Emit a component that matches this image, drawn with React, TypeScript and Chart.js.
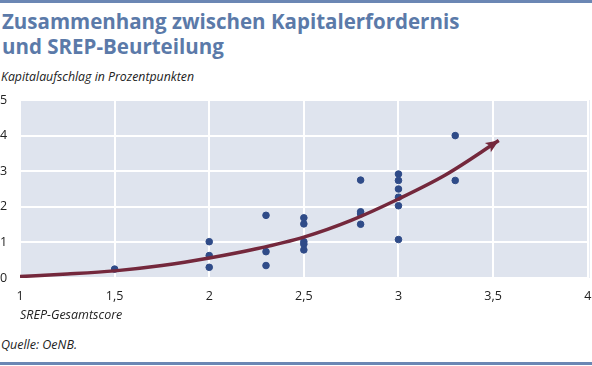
import React, { useEffect, useRef } from "react";
import { Chart, registerables } from "chart.js";
Chart.register(...registerables);

const xTicks = [1, 1.5, 2, 2.5, 3, 3.5, 4];
const yTicks = [0, 1, 2, 3, 4, 5];
const scoreX = [1.5, 2, 2, 2, 2.3, 2.3, 2.3, 2.5, 2.5, 2.5, 2.5, 2.5, 2.8, 2.8, 2.8, 2.8, 3, 3, 3, 3, 3, 3, 3.3, 3.3];
const surchargeY = [0.25, 1.02, 0.63, 0.3, 1.76, 0.74, 0.35, 1.69, 1.52, 1.02, 0.95, 0.79, 2.75, 1.86, 1.8, 1.51, 2.92, 2.74, 2.5, 2.27, 2.03, 1.08, 4.0, 2.74];
const trendX = [1, 1.25, 1.5, 1.75, 2, 2.25, 2.5, 2.75, 3, 3.25, 3.53];
const trendY = [0.04, 0.11, 0.2, 0.35, 0.56, 0.82, 1.15, 1.62, 2.22, 2.9, 3.86];

const TITLE = ["Zusammenhang zwischen Kapitalerfordernis", "und SREP-Beurteilung"];
const Y_LABEL = "Kapitalaufschlag in Prozentpunkten";
const X_LABEL = "SREP-Gesamtscore";
const SOURCE = "Quelle: OeNB.";

const BLUE = "#5b7aa9";
const DOT = "#2f4b88";
const MAROON = "#74283c";
const PLOT_BG = "#dfe4ee";
const FONT = "'Open Sans', sans-serif";

const fmt = (v: number) => String(v).replace(".", ",");

const bgPlugin = {
  id: "plotBg",
  beforeDraw(chart: any) {
    const { ctx, chartArea } = chart;
    ctx.save();
    ctx.fillStyle = PLOT_BG;
    ctx.fillRect(chartArea.left, chartArea.top, chartArea.right - chartArea.left + 2, chartArea.bottom - chartArea.top);
    ctx.restore();
  },
};

const arrowPlugin = {
  id: "arrowHead",
  afterDatasetsDraw(chart: any) {
    const meta = chart.getDatasetMeta(1);
    const pts = meta.data;
    if (!pts || pts.length < 2) return;
    const last = pts[pts.length - 1];
    const prev = pts[pts.length - 2];
    const cx = last.cp1x ?? prev.x;
    const cy = last.cp1y ?? prev.y;
    const ang = Math.atan2(last.y - cy, last.x - cx);
    const len = 13;
    const hw = 5.5;
    const { ctx } = chart;
    ctx.save();
    ctx.fillStyle = MAROON;
    ctx.translate(last.x, last.y);
    ctx.rotate(ang);
    ctx.beginPath();
    ctx.moveTo(0, 0);
    ctx.lineTo(-len, -hw);
    ctx.lineTo(-len + 3, 0);
    ctx.lineTo(-len, hw);
    ctx.closePath();
    ctx.fill();
    ctx.restore();
  },
};

export default function App() {
  const ref = useRef<HTMLCanvasElement | null>(null);
  useEffect(() => {
    if (!ref.current) return;
    const chart = new Chart(ref.current, {
      type: "scatter",
      data: {
        datasets: [
          {
            data: scoreX.map((x, i) => ({ x, y: surchargeY[i] })),
            backgroundColor: DOT,
            borderColor: DOT,
            pointRadius: 3.3,
            pointHoverRadius: 3.3,
            order: 2,
          },
          {
            type: "line",
            data: trendX.map((x, i) => ({ x, y: trendY[i] })),
            borderColor: MAROON,
            borderWidth: 3.5,
            pointRadius: 0,
            tension: 0.4,
            cubicInterpolationMode: "monotone",
            fill: false,
            order: 1,
          } as any,
        ],
      },
      options: {
        animation: false,
        responsive: false,
        maintainAspectRatio: false,
        layout: { padding: { top: 10, right: 2, left: 0, bottom: 0 } },
        plugins: { legend: { display: false }, tooltip: { enabled: false }, title: { display: false } },
        scales: {
          x: {
            type: "linear",
            min: 1,
            max: 4,
            afterBuildTicks: (axis: any) => {
              axis.ticks = xTicks.map((v) => ({ value: v }));
            },
            afterFit: (axis: any) => {
              axis.height = 52;
              axis.paddingLeft = 0;
              axis.paddingRight = 0;
            },
            grid: { color: "#ffffff", lineWidth: 2, drawTicks: false },
            border: { display: false },
            ticks: {
              padding: 11,
              color: "#222222",
              font: { family: FONT, size: 12.5 },
              callback: (v: any) => fmt(Number(v)),
              maxRotation: 0,
              autoSkip: false,
            },
            title: {
              display: true,
              text: X_LABEL,
              align: "start",
              color: "#222222",
              font: { family: FONT, size: 12.5, style: "italic" },
              padding: { top: 0, bottom: 7 },
            },
          },
          y: {
            type: "linear",
            min: 0,
            max: 5,
            afterBuildTicks: (axis: any) => {
              axis.ticks = yTicks.map((v) => ({ value: v }));
            },
            afterFit: (axis: any) => {
              axis.width = 20;
              axis.paddingTop = 0;
              axis.paddingBottom = 0;
            },
            grid: { color: "#ffffff", lineWidth: 2, drawTicks: false },
            border: { display: false },
            ticks: {
              padding: 16,
              crossAlign: "far",
              color: "#222222",
              font: { family: FONT, size: 12.5 },
              callback: (v: any) => fmt(Number(v)),
            },
          },
        },
      },
      plugins: [bgPlugin, arrowPlugin],
    } as any);
    return () => chart.destroy();
  }, []);

  return (
    <div style={{ position: "absolute", left: 0, top: 0, width: 592, height: 366, background: "#fff", overflow: "hidden", fontFamily: FONT }}>
      <div style={{ position: "absolute", left: 0, top: 0, width: 592, height: 3, background: "#6b87b4" }} />
      <div style={{ position: "absolute", left: 2, top: 9, color: BLUE, fontWeight: 700, fontSize: 20.5, lineHeight: "25px", whiteSpace: "nowrap" }}>
        {TITLE[0]}
        <br />
        {TITLE[1]}
      </div>
      <div style={{ position: "absolute", left: 1, top: 68, fontSize: 12.3, fontStyle: "italic", color: "#222", whiteSpace: "nowrap" }}>{Y_LABEL}</div>
      <canvas ref={ref} width={592} height={240} style={{ position: "absolute", left: 0, top: 90, width: 592, height: 240 }} />
      <div style={{ position: "absolute", left: 1, top: 336, fontSize: 12.5, fontStyle: "italic", color: "#222", whiteSpace: "nowrap" }}>{SOURCE}</div>
      <div style={{ position: "absolute", left: 0, top: 362, width: 592, height: 3, background: "#6b87b4" }} />
    </div>
  );
}
